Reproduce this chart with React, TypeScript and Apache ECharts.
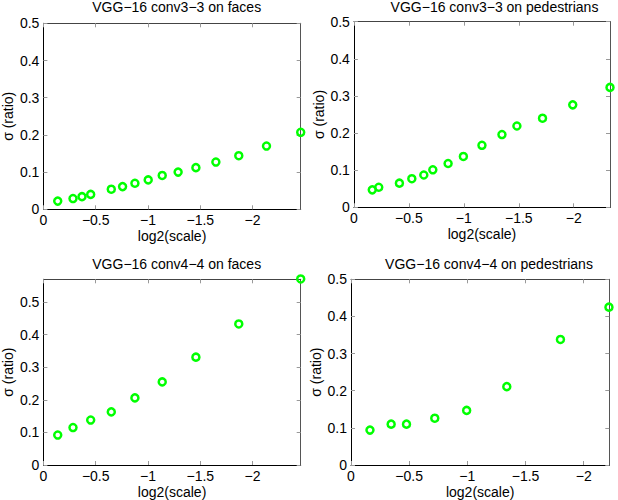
import React, { useEffect, useRef } from "react";
import * as echarts from "echarts";

// Panel titles
const titles = [
  "VGG\u221216 conv3\u22123 on faces",
  "VGG\u221216 conv3\u22123 on pedestrians",
  "VGG\u221216 conv4\u22124 on faces",
  "VGG\u221216 conv4\u22124 on pedestrians",
];

// Data: x = log2(scale), y = sigma (ratio)
const facesConv3X = [-0.137, -0.283, -0.369, -0.452, -0.649, -0.757, -0.875, -1.002, -1.136, -1.288, -1.458, -1.649, -1.868, -2.133, -2.46];
const facesConv3Y = [0.022, 0.029, 0.034, 0.040, 0.054, 0.061, 0.070, 0.079, 0.091, 0.100, 0.112, 0.127, 0.144, 0.170, 0.207];

const pedConv3X = [-0.167, -0.226, -0.414, -0.527, -0.636, -0.718, -0.857, -0.996, -1.165, -1.347, -1.483, -1.716, -1.991, -2.33];
const pedConv3Y = [0.047, 0.054, 0.065, 0.077, 0.087, 0.101, 0.118, 0.137, 0.167, 0.196, 0.219, 0.240, 0.276, 0.323];

const facesConv4X = [-0.137, -0.283, -0.452, -0.649, -0.875, -1.136, -1.458, -1.868, -2.46];
const facesConv4Y = [0.092, 0.115, 0.138, 0.163, 0.206, 0.255, 0.331, 0.433, 0.571];

const pedConv4X = [-0.163, -0.345, -0.477, -0.72, -0.994, -1.339, -1.8, -2.217];
const pedConv4Y = [0.094, 0.110, 0.110, 0.126, 0.147, 0.211, 0.338, 0.425];

// Axis ranges and ticks
const xMins = [-2.46, -2.33, -2.46, -2.22];
const yMaxs = [0.5, 0.5, 0.57, 0.5];
const xTicks = [0, -0.5, -1, -1.5, -2];
const yTicks = [0, 0.1, 0.2, 0.3, 0.4, 0.5];

const seriesX = [facesConv3X, pedConv3X, facesConv4X, pedConv4X];
const seriesY = [facesConv3Y, pedConv3Y, facesConv4Y, pedConv4Y];

// Layout (pixels)
const grids = [
  { left: 43.4, top: 23.3, width: 257.3, height: 186 },
  { left: 353.9, top: 21.7, width: 256.1, height: 185.6 },
  { left: 43.4, top: 279.3, width: 257.3, height: 185.7 },
  { left: 351, top: 279.3, width: 258.3, height: 185.7 },
];
const titlePos = [
  { x: 176.7, y: 7 },
  { x: 494.5, y: 7 },
  { x: 176.7, y: 264 },
  { x: 489, y: 264 },
];

const FONT = "'Liberation Sans', Arial, Helvetica, sans-serif";
const GREEN = "#00ff00";

function fmtX(v: number) {
  if (v === 0) return "0";
  return "\u2212" + String(Math.abs(v));
}

export default function App() {
  const ref = useRef<HTMLDivElement>(null);
  useEffect(() => {
    if (!ref.current) return;
    const chart = echarts.init(ref.current, undefined, { renderer: "svg" });
    const xAxes: any[] = [];
    const yAxes: any[] = [];
    const series: any[] = [];
    const graphics: any[] = [];
    for (let i = 0; i < 4; i++) {
      // primary bottom x axis
      xAxes.push({
        type: "value",
        gridIndex: i,
        position: "bottom",
        inverse: true,
        min: xMins[i],
        max: 0,
        name: "log2(scale)",
        nameLocation: "middle",
        nameGap: 20,
        nameTextStyle: { fontFamily: FONT, fontSize: 14, color: "#000" },
        axisLine: { show: true, onZero: false, lineStyle: { color: "#000", width: 1 } },
        axisTick: { show: true, inside: true, length: 4, customValues: xTicks, lineStyle: { color: "#999" } },
        axisLabel: { show: true, customValues: xTicks, formatter: fmtX, margin: 4, fontFamily: FONT, fontSize: 14, color: "#000", showMinLabel: true, showMaxLabel: true },
        splitLine: { show: false },
      });
      // mirror top x axis
      xAxes.push({
        type: "value",
        gridIndex: i,
        position: "top",
        inverse: true,
        min: xMins[i],
        max: 0,
        axisLine: { show: true, onZero: false, lineStyle: { color: "#444", width: 1 } },
        axisTick: { show: true, inside: true, length: 4, customValues: xTicks, lineStyle: { color: "#999" } },
        axisLabel: { show: false },
        splitLine: { show: false },
      });
      yAxes.push({
        type: "value",
        gridIndex: i,
        position: "left",
        min: 0,
        max: yMaxs[i],
        name: "\u03c3 (ratio)",
        nameLocation: "middle",
        nameGap: 28,
        nameTextStyle: { fontFamily: FONT, fontSize: 14, color: "#000" },
        axisLine: { show: true, onZero: false, lineStyle: { color: "#000", width: 1 } },
        axisTick: { show: true, inside: true, length: 4, customValues: yTicks, lineStyle: { color: "#999" } },
        axisLabel: { show: true, customValues: yTicks, formatter: (v: number) => String(v), margin: 4, fontFamily: FONT, fontSize: 14, color: "#000" },
        splitLine: { show: false },
      });
      yAxes.push({
        type: "value",
        gridIndex: i,
        position: "right",
        min: 0,
        max: yMaxs[i],
        axisLine: { show: true, onZero: false, lineStyle: { color: "#555", width: 1 } },
        axisTick: { show: true, inside: true, length: 4, customValues: yTicks, lineStyle: { color: "#999" } },
        axisLabel: { show: false },
        splitLine: { show: false },
      });
      series.push({
        type: "scatter",
        xAxisIndex: i * 2,
        yAxisIndex: i * 2,
        data: seriesX[i].map((x, j) => [x, seriesY[i][j]]),
        symbol: "circle",
        symbolSize: 7,
        clip: false,
        itemStyle: { color: "rgba(255,255,255,0)", borderColor: GREEN, borderWidth: 2.5, opacity: 1 },
      });
      graphics.push({
        type: "text",
        x: titlePos[i].x,
        y: titlePos[i].y,
        style: {
          text: titles[i],
          align: "center",
          verticalAlign: "middle",
          fontFamily: FONT,
          fontSize: 14,
          fill: "#000",
        },
      });
    }
    chart.setOption({
      animation: false,
      backgroundColor: "#fff",
      grid: grids.map((g) => ({ ...g, containLabel: false })),
      xAxis: xAxes,
      yAxis: yAxes,
      series,
      graphic: graphics,
    });
    return () => chart.dispose();
  }, []);
  return (
    <div
      ref={ref}
      style={{ position: "absolute", left: 0, top: 0, width: 618, height: 500 }}
    />
  );
}
